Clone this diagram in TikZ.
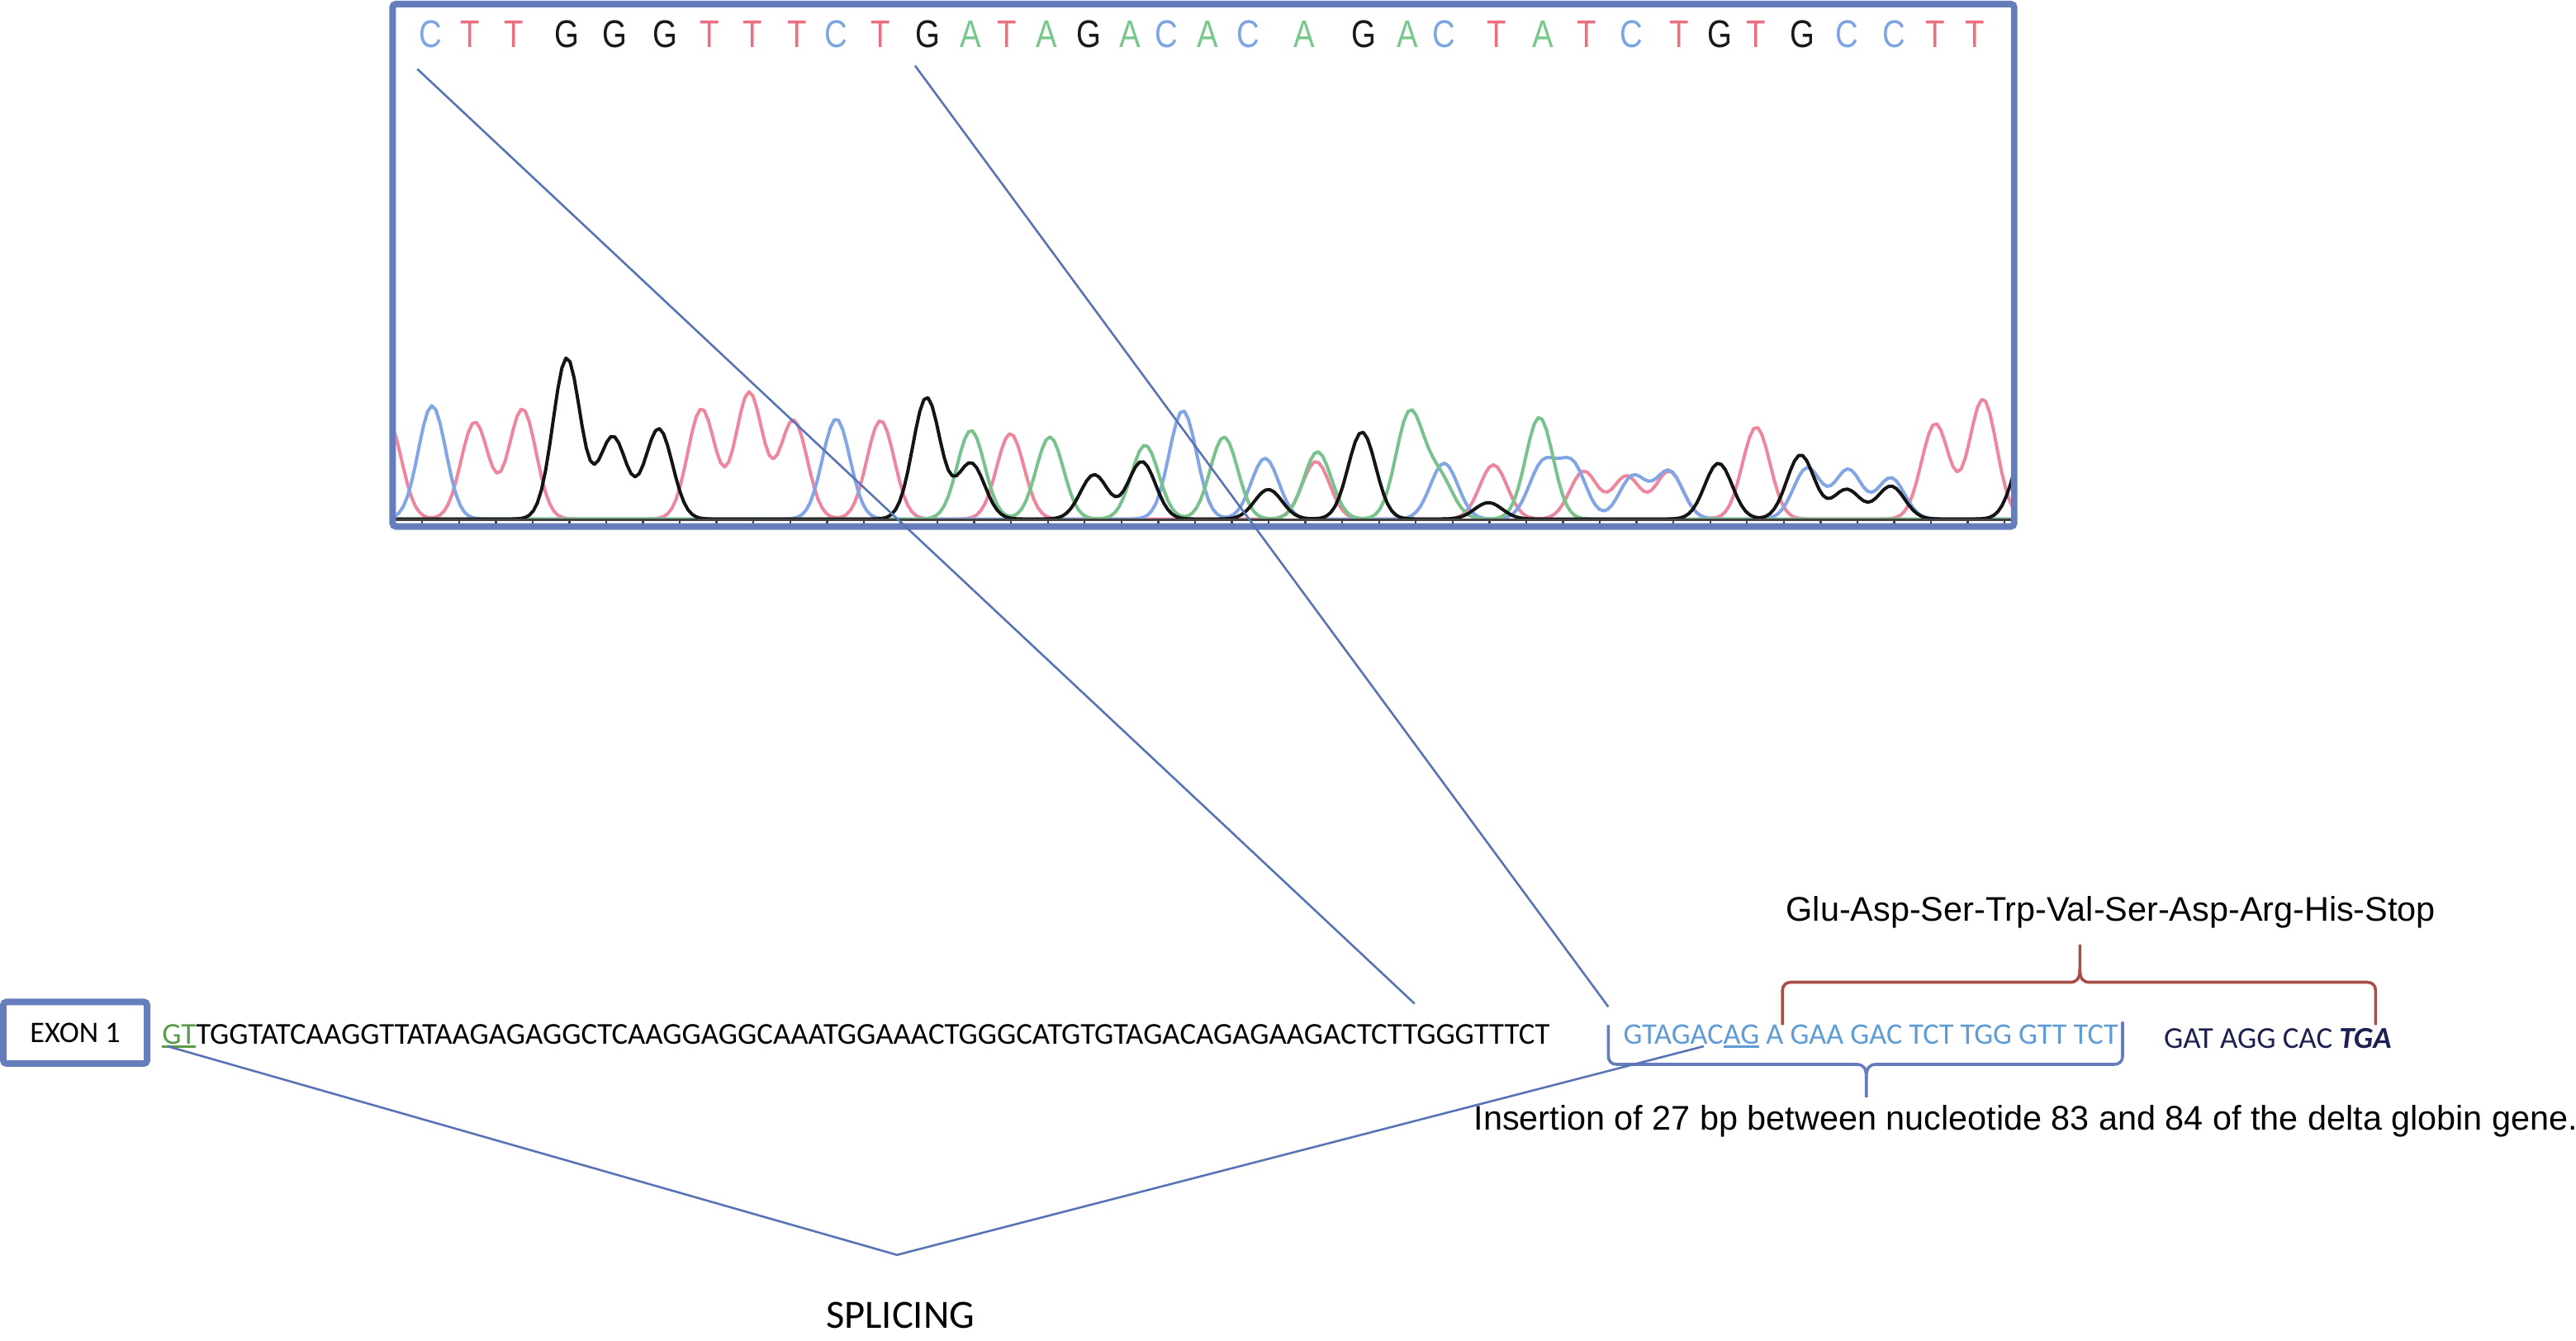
\documentclass[tikz,border=0pt]{standalone}
\usepackage{fontspec}
\newfontfamily\calib{Carlito}
\newfontfamily\arial{Liberation Sans}
\definecolor{frameblue}{RGB}{101,125,186}
\definecolor{lineblue}{RGB}{88,116,182}
\definecolor{seqblue}{RGB}{95,155,213}
\definecolor{navyseq}{RGB}{28,32,82}
\definecolor{gtgreen}{RGB}{88,155,72}
\definecolor{bracebrown}{RGB}{168,78,68}
\definecolor{colA}{RGB}{120,200,140}
\definecolor{colC}{RGB}{125,165,228}
\definecolor{colG}{RGB}{25,25,25}
\definecolor{colT}{RGB}{236,110,128}
\definecolor{trA}{RGB}{120,195,140}
\definecolor{trC}{RGB}{130,165,230}
\definecolor{trG}{RGB}{20,20,20}
\definecolor{trT}{RGB}{238,135,158}
\newsavebox\ulbox
\newcommand\myul[2]{\sbox\ulbox{#2}\rlap{\color{#1}\rule[-2.4pt]{\wd\ulbox}{1.6pt}}\usebox\ulbox}
\tikzset{
  frame/.style={draw=frameblue, line width=4pt, rounded corners=2pt},
  conn/.style={draw=lineblue, line width=1.3pt},
  trace/.style={line width=2pt, line join=round},
  txt/.style={inner sep=0pt, anchor=base west},
  seqfont/.style={font=\calib\fontsize{18.2}{20}\selectfont},
  seqbig/.style={font=\calib\fontsize{18.5}{20}\selectfont},
  lblfont/.style={font=\arial\fontsize{20.8}{23}\selectfont},
  ntfont/.style={font=\arial\fontsize{23.5}{24}\selectfont},
}
\begin{document}
\begin{tikzpicture}[x=1pt, y=-1pt,
  declare function={
    g(\x,\c)=exp(-min(((\x-\c)/11.8)*((\x-\c)/11.8),25));
    pT(\x)=60*g(\x,236)+59*g(\x,289)+67*g(\x,318)+67*g(\x,427)+77*g(\x,456)+60*g(\x,483)+60*g(\x,536)+52*g(\x,615)+35*g(\x,801)+33*g(\x,909)+29*g(\x,964)+26*g(\x,990)+29*g(\x,1016)+56*g(\x,1069)+58*g(\x,1178)+73*g(\x,1207);
    pG(\x)=98*g(\x,345)+50*g(\x,373)+55*g(\x,401)+74*g(\x,564)+34*g(\x,591)+27*g(\x,666)+35*g(\x,695)+18*g(\x,772)+53*g(\x,829)+10*g(\x,906)+34*g(\x,1046)+39*g(\x,1096)+18*g(\x,1124)+20*g(\x,1151)+45*g(\x,1234);
    pC(\x)=69*g(\x,263)+61*g(\x,509)+66*g(\x,720)+37*g(\x,770)+34*g(\x,879)+33*g(\x,939)+33*g(\x,957)+26*g(\x,994)+29*g(\x,1016)+31*g(\x,1100)+30*g(\x,1125)+25*g(\x,1151);
    pA(\x)=54*g(\x,591)+50*g(\x,639)+45*g(\x,697)+50*g(\x,745)+41*g(\x,802)+64*g(\x,858)+25*g(\x,876)+62*g(\x,937);
  }]
\useasboundingbox (0,0) rectangle (1568,816.4);
\fill[white] (0,0) rectangle (1568,816.4);

% chromatogram traces
\begin{scope}
  \clip (241,5) rectangle (1224,318.5);
  \draw[trace, trT] plot[domain=238:1226, samples=400] (\x,{316-pT(\x)});
  \draw[trace, trC] plot[domain=238:1226, samples=400] (\x,{316-pC(\x)});
  \draw[trace, trA] plot[domain=238:1226, samples=400] (\x,{316-pA(\x)});
  \draw[trace, trG] plot[domain=238:1226, samples=400] (\x,{316-pG(\x)});
  \draw[black!75, line width=1.5pt] (241,316.5) -- (1224,316.5);
  \foreach \t in {257,279.4,...,1222} \draw[black!75, line width=1.2pt] (\t,316) -- (\t,319);
\end{scope}

% base calls
\foreach \x/\l [count=\i] in {262/C,286/T,313/T,345/G,374/G,405/G,432/T,458/T,485/T,509/C,536/T,565/G,591/A,613/T,637/A,663/G,688/A,710/C,735/A,760/C,794/A,830/G,857/A,879/C,911/T,939/A,966/T,993/C,1022/T,1047/G,1069/T,1097/G,1124/C,1153/C,1178/T,1202/T}
  \node[ntfont, inner sep=0pt, anchor=base, text=col\l] (nt\i) at (\x,29) {\scalebox{0.82}[1]{\l}};

% chromatogram frame
\draw[frame] (239,2.5) rectangle (1226,320.5);

% exon box
\node[draw=frameblue, line width=4pt, rounded corners=2pt, minimum width=87.5pt, minimum height=37.5pt, inner sep=0pt, seqfont] (exon) at (45.75,628.75) {EXON 1};

% sequences
\node[txt, seqbig] (seq1) at (98.5,635.5) {{\color{gtgreen}\myul{gtgreen}{GT}}TGGTATCAAGGTTATAAGAGAGGCTCAAGGAGGCAAATGGAAACTGGGCATGTGTAGACAGAGAAGACTCTTGGGTTTCT};
\node[txt, seqfont, text=seqblue] (seq2) at (988,635.5) {GTAGAC\myul{seqblue}{AG} A GAA GAC TCT TGG GTT TCT};
\node[txt, seqbig, text=navyseq] (seq3) at (1317,638) {GAT AGG CAC {\bfseries\itshape TGA}};

% labels
\node[txt, lblfont] (prot) at (1087,561) {Glu-Asp-Ser-Trp-Val-Ser-Asp-Arg-His-Stop};
\node[txt, lblfont] (ins) at (897,688) {Insertion of 27 bp between nucleotide 83 and 84 of the delta globin gene.};
\node[inner sep=0pt, anchor=base, font=\calib\fontsize{24.4}{26}\selectfont] (spl) at (548,808.5) {SPLICING};

% braces
\draw[bracebrown, line width=1.8pt] (1085,624) -- (1085,603) .. controls (1085,600) and (1087,598) .. (1090,598) -- (1260,598) .. controls (1264,598) and (1266,596) .. (1266,590) -- (1266,575);
\draw[bracebrown, line width=1.8pt] (1266,590) .. controls (1266,596) and (1268,598) .. (1272,598) -- (1441,598) .. controls (1444,598) and (1446,600) .. (1446,603) -- (1446,624);
\draw[frameblue, line width=1.8pt] (979,624) -- (979,643) .. controls (979,646) and (981,648) .. (984,648) -- (1130,648) .. controls (1134,648) and (1136,650) .. (1136,656) -- (1136,668);
\draw[frameblue, line width=1.8pt] (1136,656) .. controls (1136,650) and (1138,648) .. (1142,648) -- (1287,648) .. controls (1290,648) and (1292,646) .. (1292,643) -- (1292,622);

% connectors
\coordinate (c1a) at (254,42);
\coordinate (c1b) at (861,611);
\coordinate (c2a) at (557,40);
\coordinate (c2b) at (979,613);
\coordinate (spA) at (102,637);
\coordinate (spV) at (546,764);
\coordinate (spB) at (1037,637);
\draw[conn] (c1a) -- (c1b);
\draw[conn] (c2a) -- (c2b);
\draw[conn] (spA) -- (spV) -- (spB);
\end{tikzpicture}
\end{document}
